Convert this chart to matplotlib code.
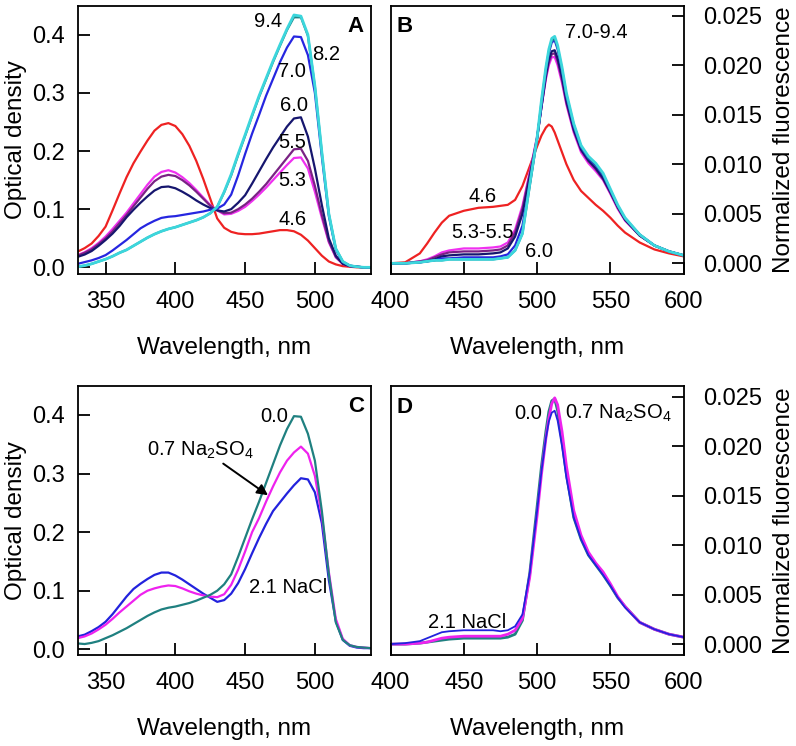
import matplotlib
matplotlib.use('Agg')
import matplotlib.pyplot as plt

plt.rcParams['font.family'] = ['Liberation Sans', 'DejaVu Sans']
plt.rcParams['mathtext.default'] = 'regular'

# ---------------- Panel A: absorbance vs pH ----------------
wl_abs = list(range(330, 541, 5))
a_ph46 = [0.027, 0.033, 0.041, 0.054, 0.070, 0.098, 0.127, 0.155, 0.179, 0.199, 0.218, 0.235, 0.245, 0.248,
          0.243, 0.229, 0.209, 0.183, 0.152, 0.118, 0.084, 0.068, 0.061, 0.058, 0.057, 0.057, 0.058, 0.060,
          0.062, 0.064, 0.064, 0.062, 0.056, 0.046, 0.033, 0.020, 0.010, 0.005, 0.002, 0.001, 0.000, 0.000, 0.000]
a_ph53 = [0.021, 0.026, 0.033, 0.042, 0.053, 0.066, 0.080, 0.094, 0.110, 0.126, 0.142, 0.156, 0.164, 0.167,
          0.163, 0.155, 0.145, 0.133, 0.120, 0.107, 0.098, 0.091, 0.092, 0.097, 0.104, 0.114, 0.125, 0.137,
          0.150, 0.163, 0.176, 0.188, 0.189, 0.170, 0.130, 0.085, 0.043, 0.017, 0.006, 0.002, 0.001, 0.000, 0.000]
a_ph55 = [0.020, 0.025, 0.031, 0.040, 0.050, 0.062, 0.076, 0.090, 0.105, 0.120, 0.135, 0.148, 0.156, 0.159,
          0.157, 0.150, 0.141, 0.130, 0.118, 0.106, 0.098, 0.093, 0.094, 0.100, 0.108, 0.118, 0.130, 0.143,
          0.158, 0.173, 0.188, 0.203, 0.204, 0.183, 0.140, 0.090, 0.045, 0.018, 0.006, 0.002, 0.001, 0.000, 0.000]
a_ph60 = [0.018, 0.022, 0.028, 0.037, 0.047, 0.058, 0.071, 0.086, 0.099, 0.111, 0.122, 0.132, 0.138, 0.139,
          0.136, 0.130, 0.123, 0.115, 0.108, 0.102, 0.098, 0.096, 0.100, 0.111, 0.124, 0.144, 0.165, 0.186,
          0.206, 0.224, 0.242, 0.256, 0.258, 0.225, 0.170, 0.107, 0.050, 0.020, 0.006, 0.002, 0.001, 0.000, 0.000]
a_ph70 = [0.006, 0.009, 0.012, 0.016, 0.021, 0.029, 0.038, 0.047, 0.057, 0.067, 0.074, 0.080, 0.085, 0.087,
          0.088, 0.090, 0.092, 0.094, 0.096, 0.099, 0.101, 0.108, 0.125, 0.158, 0.195, 0.230, 0.262, 0.295,
          0.324, 0.353, 0.378, 0.397, 0.396, 0.365, 0.300, 0.190, 0.088, 0.030, 0.009, 0.003, 0.001, 0.000, 0.000]
a_ph82 = [0.001, 0.003, 0.006, 0.010, 0.014, 0.019, 0.025, 0.030, 0.037, 0.044, 0.051, 0.057, 0.062, 0.066,
          0.069, 0.073, 0.077, 0.081, 0.086, 0.093, 0.104, 0.129, 0.158, 0.193, 0.226, 0.260, 0.293, 0.323,
          0.353, 0.381, 0.408, 0.430, 0.430, 0.398, 0.311, 0.197, 0.092, 0.032, 0.010, 0.003, 0.001, 0.000, 0.000]
a_ph94 = [0.001, 0.003, 0.006, 0.010, 0.014, 0.019, 0.025, 0.030, 0.037, 0.044, 0.051, 0.057, 0.062, 0.066,
          0.069, 0.073, 0.077, 0.081, 0.086, 0.093, 0.104, 0.130, 0.160, 0.195, 0.228, 0.262, 0.295, 0.325,
          0.355, 0.383, 0.410, 0.434, 0.432, 0.400, 0.312, 0.198, 0.092, 0.032, 0.010, 0.003, 0.001, 0.000, 0.000]

# ---------------- Panel B: fluorescence vs pH ----------------
wl_fl = [400, 410, 420, 425, 430, 435, 440, 450, 460, 470, 475, 480, 485, 490, 495, 500, 503, 506, 508, 510,
         512, 514, 517, 520, 525, 530, 535, 540, 545, 550, 555, 560, 570, 580, 590, 600]
f_ph46 = [0.0000, 0.0001, 0.0010, 0.0020, 0.0031, 0.0041, 0.0048, 0.0053, 0.0056, 0.0057, 0.0058, 0.0059,
          0.0064, 0.0078, 0.0098, 0.0118, 0.0129, 0.0137, 0.0140, 0.0138, 0.0132, 0.0124, 0.0112, 0.0100,
          0.0084, 0.0073, 0.0066, 0.0059, 0.0053, 0.0046, 0.0038, 0.0031, 0.0021, 0.0014, 0.0010, 0.0007]
f_ph53 = [0.0000, 0.0000, 0.0002, 0.0004, 0.0007, 0.0011, 0.0013, 0.0015, 0.0015, 0.0016, 0.0017, 0.0021,
          0.0034, 0.0058, 0.0092, 0.0128, 0.0158, 0.0186, 0.0200, 0.0208, 0.0208, 0.0200, 0.0182, 0.0160,
          0.0132, 0.0112, 0.0101, 0.0093, 0.0084, 0.0070, 0.0055, 0.0043, 0.0028, 0.0018, 0.0012, 0.0008]
f_ph55 = [0.0000, 0.0000, 0.0002, 0.0003, 0.0006, 0.0009, 0.0011, 0.0012, 0.0012, 0.0013, 0.0014, 0.0018,
          0.0031, 0.0055, 0.0090, 0.0127, 0.0158, 0.0188, 0.0203, 0.0211, 0.0212, 0.0204, 0.0185, 0.0162,
          0.0134, 0.0114, 0.0103, 0.0095, 0.0085, 0.0071, 0.0056, 0.0044, 0.0028, 0.0018, 0.0012, 0.0008]
f_ph60 = [0.0000, 0.0000, 0.0001, 0.0002, 0.0004, 0.0007, 0.0008, 0.0009, 0.0009, 0.0010, 0.0011, 0.0015,
          0.0027, 0.0050, 0.0087, 0.0126, 0.0158, 0.0190, 0.0206, 0.0214, 0.0215, 0.0207, 0.0188, 0.0164,
          0.0135, 0.0115, 0.0104, 0.0096, 0.0086, 0.0072, 0.0057, 0.0044, 0.0028, 0.0018, 0.0012, 0.0008]
f_ph70 = [0.0000, 0.0000, 0.0001, 0.0002, 0.0003, 0.0005, 0.0005, 0.0006, 0.0006, 0.0006, 0.0007, 0.0009,
          0.0018, 0.0038, 0.0080, 0.0126, 0.0160, 0.0194, 0.0212, 0.0223, 0.0225, 0.0216, 0.0194, 0.0168,
          0.0138, 0.0117, 0.0106, 0.0099, 0.0089, 0.0073, 0.0058, 0.0045, 0.0029, 0.0018, 0.0012, 0.0008]
f_ph82 = [0.0000, 0.0000, 0.0001, 0.0002, 0.0003, 0.0003, 0.0004, 0.0004, 0.0004, 0.0004, 0.0005, 0.0006,
          0.0013, 0.0030, 0.0078, 0.0126, 0.0163, 0.0196, 0.0214, 0.0225, 0.0227, 0.0218, 0.0196, 0.0170,
          0.0140, 0.0118, 0.0107, 0.0100, 0.0090, 0.0074, 0.0058, 0.0045, 0.0029, 0.0018, 0.0012, 0.0008]
f_ph94 = [0.0000, 0.0000, 0.0001, 0.0002, 0.0003, 0.0003, 0.0004, 0.0004, 0.0004, 0.0004, 0.0005, 0.0006,
          0.0013, 0.0030, 0.0080, 0.0127, 0.0165, 0.0198, 0.0216, 0.0227, 0.0229, 0.0220, 0.0198, 0.0172,
          0.0141, 0.0119, 0.0108, 0.0101, 0.0091, 0.0075, 0.0059, 0.0046, 0.0029, 0.0018, 0.0012, 0.0008]

# ---------------- Panel C: absorbance with salts ----------------
c_none = [0.010, 0.009, 0.011, 0.014, 0.019, 0.024, 0.030, 0.036, 0.043, 0.050, 0.057, 0.063, 0.068, 0.071,
          0.073, 0.076, 0.079, 0.083, 0.088, 0.093, 0.100, 0.111, 0.128, 0.158, 0.190, 0.222, 0.252, 0.284,
          0.316, 0.348, 0.376, 0.398, 0.397, 0.368, 0.322, 0.236, 0.128, 0.046, 0.016, 0.007, 0.004, 0.003, 0.002]
c_na2so4 = [0.019, 0.022, 0.027, 0.034, 0.042, 0.052, 0.063, 0.073, 0.083, 0.093, 0.100, 0.104, 0.107, 0.109,
            0.108, 0.104, 0.099, 0.095, 0.092, 0.090, 0.089, 0.094, 0.110, 0.136, 0.167, 0.200, 0.224, 0.252,
            0.278, 0.302, 0.322, 0.336, 0.346, 0.334, 0.296, 0.228, 0.132, 0.052, 0.018, 0.007, 0.004, 0.003, 0.002]
c_nacl = [0.022, 0.025, 0.031, 0.038, 0.047, 0.060, 0.075, 0.090, 0.103, 0.112, 0.120, 0.127, 0.131, 0.131,
          0.126, 0.119, 0.111, 0.103, 0.095, 0.088, 0.081, 0.084, 0.095, 0.113, 0.137, 0.164, 0.190, 0.214,
          0.236, 0.251, 0.266, 0.280, 0.292, 0.290, 0.268, 0.215, 0.118, 0.048, 0.016, 0.006, 0.003, 0.002, 0.002]

# ---------------- Panel D: fluorescence with salts ----------------
d_none = [0.0000, 0.0000, 0.0001, 0.0002, 0.0003, 0.0004, 0.0005, 0.0006, 0.0006, 0.0006, 0.0006, 0.0007,
          0.0010, 0.0024, 0.0072, 0.0139, 0.0180, 0.0215, 0.0235, 0.0246, 0.0248, 0.0236, 0.0205, 0.0172,
          0.0128, 0.0106, 0.0090, 0.0080, 0.0070, 0.0059, 0.0047, 0.0038, 0.0022, 0.0015, 0.0010, 0.0007]
d_na2so4 = [0.0000, 0.0000, 0.0001, 0.0002, 0.0004, 0.0006, 0.0007, 0.0008, 0.0008, 0.0008, 0.0008, 0.0010,
            0.0014, 0.0026, 0.0068, 0.0130, 0.0172, 0.0208, 0.0228, 0.0243, 0.0249, 0.0242, 0.0215, 0.0180,
            0.0135, 0.0110, 0.0093, 0.0082, 0.0073, 0.0061, 0.0048, 0.0038, 0.0022, 0.0015, 0.0010, 0.0007]
d_nacl = [0.0000, 0.0001, 0.0003, 0.0006, 0.0009, 0.0012, 0.0013, 0.0014, 0.0014, 0.0014, 0.0013, 0.0014,
          0.0018, 0.0030, 0.0072, 0.0135, 0.0175, 0.0208, 0.0225, 0.0234, 0.0236, 0.0226, 0.0200, 0.0168,
          0.0128, 0.0106, 0.0090, 0.0080, 0.0070, 0.0059, 0.0047, 0.0037, 0.0022, 0.0015, 0.0010, 0.0007]

abs_ticks = [350, 400, 450, 500]
od_ticks = [0.0, 0.1, 0.2, 0.3, 0.4]
fl_xticks = [400, 450, 500, 550, 600]
fl_yticks = [0.000, 0.005, 0.010, 0.015, 0.020, 0.025]

RED = '#ee2222'
MAG = '#f030f0'
PUR = '#7a2284'
NAVY = '#16166e'
BLUE = '#2626e0'
TEAL = '#1f8486'
CYAN = '#3cd6dc'

fig = plt.figure(figsize=(7.96, 7.46), dpi=100)
axA = fig.add_axes([0.0976, 0.6327, 0.3681, 0.3597])
axB = fig.add_axes([0.4906, 0.6327, 0.3683, 0.3597])
axC = fig.add_axes([0.0976, 0.1220, 0.3681, 0.3606])
axD = fig.add_axes([0.4906, 0.1220, 0.3683, 0.3606])


def style(ax, right=False):
    for s in ax.spines.values():
        s.set_linewidth(1.3)
    ax.tick_params(direction='in', length=8.5, width=1.3, labelsize=17)
    ax.tick_params(axis='x', pad=12.5, top=False)
    if right:
        ax.yaxis.tick_right()
        ax.yaxis.set_label_position('right')
        ax.tick_params(axis='y', pad=14, left=False, right=True)
        ax.set_ylabel('Normalized fluorescence', fontsize=17.5)
        ax.yaxis.set_label_coords(1.306, 0.5)
    else:
        ax.tick_params(axis='y', pad=9, right=False)
        ax.set_ylabel('Optical density', fontsize=17.5)
        ax.yaxis.set_label_coords(-0.174, 0.5)
    ax.set_xlabel('Wavelength, nm', fontsize=17.5)
    ax.xaxis.set_label_coords(0.5, -0.233)


LW = 1.6
# Panel A
for y, c, w in [(a_ph46, RED, LW), (a_ph53, MAG, LW), (a_ph55, PUR, LW), (a_ph60, NAVY, LW),
                (a_ph70, BLUE, LW), (a_ph82, TEAL, LW), (a_ph94, CYAN, 2.0)]:
    axA.plot(wl_abs, y, color=c, lw=w)
axA.set_xlim(330, 540)
axA.set_ylim(-0.0115, 0.450)
axA.set_xticks(abs_ticks)
axA.set_yticks(od_ticks)
axA.set_yticklabels([f'{v:.1f}' for v in od_ticks])
style(axA)
ann_kw = dict(fontsize=14.5, ha='center', va='baseline')
for t, x, y in [('9.4', 466.6, 0.414), ('8.2', 508.0, 0.357), ('7.0', 483.8, 0.328), ('6.0', 485.2, 0.268),
                ('5.5', 483.8, 0.205), ('5.3', 483.8, 0.139), ('4.6', 483.8, 0.0728)]:
    axA.text(x, y, t, **ann_kw)
axA.text(0.921, 0.903, 'A', transform=axA.transAxes, fontsize=16, fontweight='bold', ha='left', va='baseline')

# Panel B
for y, c, w in [(f_ph46, RED, LW), (f_ph53, MAG, LW), (f_ph55, PUR, LW), (f_ph60, NAVY, LW),
                (f_ph70, BLUE, LW), (f_ph82, TEAL, LW), (f_ph94, CYAN, 2.0)]:
    axB.plot(wl_fl, y, color=c, lw=w)
axB.set_xlim(400, 600)
axB.set_ylim(-0.00108, 0.0260)
axB.set_xticks(fl_xticks)
axB.set_yticks(fl_yticks)
axB.set_yticklabels([f'{v:.3f}' for v in fl_yticks])
style(axB, right=True)
for t, x, y in [('7.0-9.4', 540.7, 0.02273), ('4.6', 462.8, 0.00622), ('5.3-5.5', 462.6, 0.00253),
                ('6.0', 501.5, 0.00067)]:
    axB.text(x, y, t, **ann_kw)
axB.text(0.0188, 0.903, 'B', transform=axB.transAxes, fontsize=16, fontweight='bold', ha='left', va='baseline')

# Panel C
for y, c in [(c_nacl, '#2222dd'), (c_na2so4, '#ee22ee'), (c_none, '#1f8080')]:
    axC.plot(wl_abs, y, color=c, lw=LW)
axC.set_xlim(330, 540)
axC.set_ylim(-0.0097, 0.4495)
axC.set_xticks(abs_ticks)
axC.set_yticks(od_ticks)
axC.set_yticklabels([f'{v:.1f}' for v in od_ticks])
style(axC)
axC.text(471.0, 0.388, '0.0', **ann_kw)
axC.text(418.2, 0.330, '0.7 Na$_2$SO$_4$', **ann_kw)
axC.text(480.7, 0.0956, '2.1 NaCl', **ann_kw)
axC.annotate('', xy=(466.4, 0.263), xytext=(434.3, 0.317),
             arrowprops=dict(arrowstyle='-|>', color='black', lw=1.4, mutation_scale=16, shrinkA=0, shrinkB=0))
axC.text(0.923, 0.9045, 'C', transform=axC.transAxes, fontsize=16, fontweight='bold', ha='left', va='baseline')

# Panel D
axD.plot(wl_fl, d_none, color='#1f8080', lw=2.0)
axD.plot(wl_fl, d_na2so4, color='#ee22ee', lw=2.0)
axD.plot(wl_fl, d_nacl, color='#2222dd', lw=1.3)
axD.set_xlim(400, 600)
axD.set_ylim(-0.0011, 0.0261)
axD.set_xticks(fl_xticks)
axD.set_yticks(fl_yticks)
axD.set_yticklabels([f'{v:.3f}' for v in fl_yticks])
style(axD, right=True)
axD.text(493.9, 0.02281, '0.0', **ann_kw)
axD.text(555.7, 0.02281, '0.7 Na$_2$SO$_4$', **ann_kw)
axD.text(452.3, 0.00159, '2.1 NaCl', **ann_kw)
axD.text(0.0188, 0.8985, 'D', transform=axD.transAxes, fontsize=16, fontweight='bold', ha='left', va='baseline')

fig.savefig('out.png', dpi=100)
